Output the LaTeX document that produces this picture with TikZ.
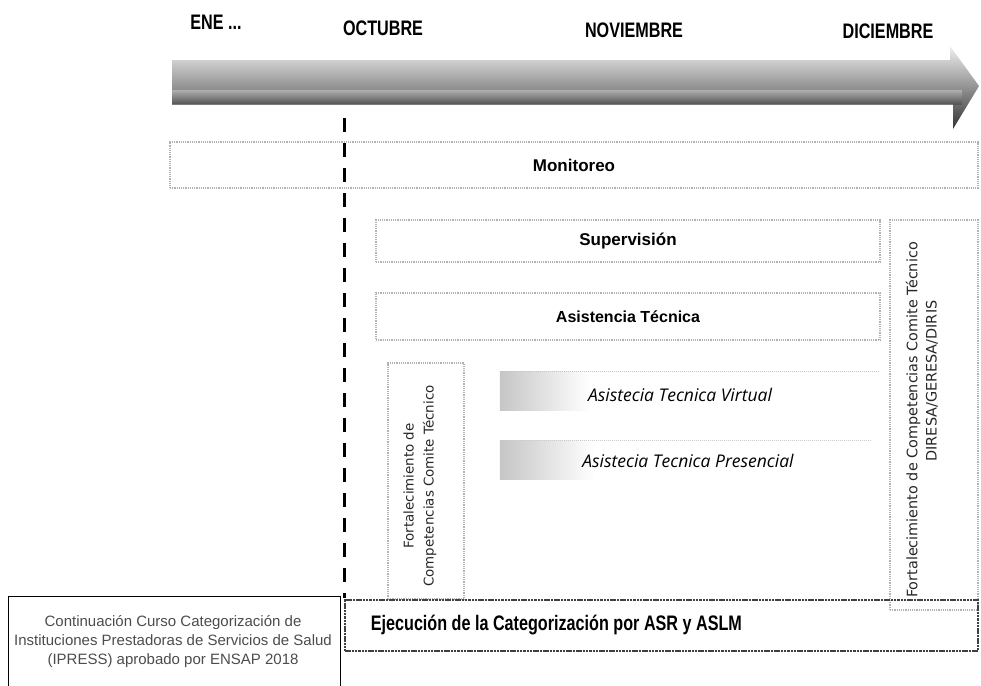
\documentclass[tikz,border=0pt]{standalone}
\usepackage{fontspec}
\setmainfont{Liberation Sans}
\newfontfamily\osans{Open Sans}
\newfontfamily\dvsans{DejaVu Sans}
\begin{document}
\begin{tikzpicture}[x=1pt,y=-1pt,
  dotbox/.style={draw=gray!60, line width=1.2pt, densely dotted, inner sep=0pt},
  darkbox/.style={draw=black!75, line width=2.6pt, dash pattern=on 2.5pt off 0.8pt, inner sep=0pt},
  month/.style={font=\fontsize{21}{24}\selectfont\bfseries, xscale=0.77, inner sep=0pt},
  title/.style={font=\fontsize{17}{20}\selectfont\bfseries, inner sep=0pt},
  vtext/.style={font=\dvsans\fontsize{13.4}{20}\selectfont, align=center, rotate=90, text=black!85, inner sep=0pt},
  vtextr/.style={font=\dvsans\fontsize{14.4}{20}\selectfont, rotate=90, text=black!85, inner sep=0pt},
  ittext/.style={font=\osans\itshape\fontsize{17.5}{20}\selectfont, inner sep=0pt},
  patch/.style={inner sep=0pt, minimum height=38pt},
]
\useasboundingbox (0,0) rectangle (981,685);

% month labels
\node[month] (ene) at (216,22) {ENE ...};
\node[month] (oct) at (383,28) {OCTUBRE};
\node[month] (nov) at (634,30) {NOVIEMBRE};
\node[month] (dic) at (888,31) {DICIEMBRE};

% timeline arrow
\shade[top color=gray!12, middle color=gray!45, bottom color=black!80]
  (172,60) -- (950,60) -- (950,46) -- (979,86) -- (953,129) -- (953,104) -- (172,104) -- cycle;
\shade[top color=gray!50, bottom color=black!70, opacity=0.7]
  (172,90) -- (962,90) -- (962,104) -- (172,104) -- cycle;

% dashed October line
\coordinate (dtop) at (344,118);
\coordinate (dbot) at (344,598);
\draw[line width=3pt, dash pattern=on 14pt off 11pt] (dtop) -- (dbot);

% boxes
\node[dotbox, minimum width=808pt, minimum height=46pt, title] (mon) at (574,165) {Monitoreo};
\node[dotbox, minimum width=504pt, minimum height=42pt, title] (sup) at (628,241) {Supervisión};
\node[dotbox, minimum width=504pt, minimum height=47pt, font=\fontsize{16}{19}\selectfont\bfseries] (asi) at (628,316.5) {Asistencia Técnica};

\node[dotbox, minimum width=76pt, minimum height=236pt] (fleft) at (426,481) {};
\node[vtext] (fleftt) at (420,486) {Fortalecimiento de\\Competencias Comite Técnico};

\node[dotbox, minimum width=88pt, minimum height=390pt] (fright) at (934,415) {};
\node[vtextr] (frightt1) at (913,420) {Fortalecimiento de Competencias Comite Técnico};
\node[vtextr] (frightt2) at (932,381) {DIRESA/GERESA/DIRIS};

% virtual / presencial blocks
\node[patch, minimum width=378pt] (virt) at (689,391) {};
\shade[left color=gray!45, right color=white] (virt.north west) rectangle ([xshift=90pt]virt.south west);
\draw[gray!45, densely dotted, line width=1pt] (virt.north west) -- (virt.north east);
\node[ittext] (virtt) at (680,395) {Asistecia Tecnica Virtual};

\node[patch, minimum width=370pt] (pres) at (685,460) {};
\shade[left color=gray!45, right color=white] (pres.north west) rectangle ([xshift=95pt]pres.south west);
\draw[gray!40, densely dotted, line width=1pt] (pres.north west) -- (pres.north east);
\node[ittext] (prest) at (688,461) {Asistecia Tecnica Presencial};

% execution box
\node[darkbox, minimum width=633pt, minimum height=51pt] (eje) at (661.5,625.5) {};
\node[anchor=west, inner sep=0pt, xscale=0.77, font=\fontsize{21}{24}\selectfont\bfseries] (ejet) at ([xshift=27pt]eje.west) {Ejecución de la Categorización por ASR y ASLM};

% left course box
\node[draw=black, line width=0.8pt, minimum width=332pt, minimum height=96pt, inner sep=0pt] (curso) at (174,644) {};
\node[align=center, font=\fontsize{15}{19}\selectfont, text=black!70, inner sep=0pt] (cursot) at (173,642)
  {Continuación Curso Categorización de\\Instituciones Prestadoras de Servicios de Salud\\(IPRESS) aprobado por ENSAP 2018};
\end{tikzpicture}
\end{document}
